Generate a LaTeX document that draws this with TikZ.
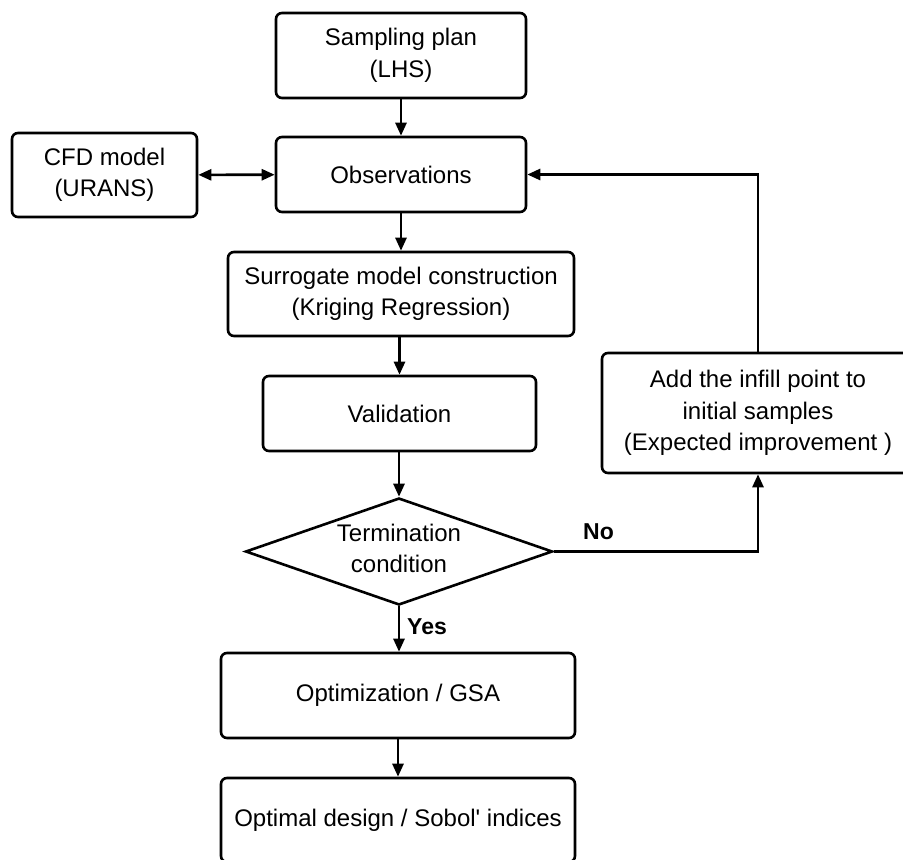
\documentclass[tikz,border=0pt]{standalone}
\usepackage{fontspec}
\setmainfont{Liberation Sans}
\usetikzlibrary{arrows.meta,shapes.geometric}

\tikzset{
  box/.style={draw, line width=2.6pt, rounded corners=6pt, rectangle,
    inner sep=0pt, align=center, fill=white,
    font=\fontsize{24}{31.5}\selectfont},
  decision/.style={draw, line width=2.6pt, diamond, inner sep=0pt,
    minimum width=307pt, minimum height=107pt},
  flow/.style={line width=2.6pt, -{Triangle[length=13pt,width=11pt]}},
  twoway/.style={line width=2.6pt,
    {Triangle[length=13pt,width=11pt]}-{Triangle[length=13pt,width=11pt]}},
  answer/.style={font=\bfseries\fontsize{23}{28}\selectfont, inner sep=0pt}
}

\begin{document}
\begin{tikzpicture}[x=1pt, y=-1pt]
  \useasboundingbox (0,0) rectangle (903,860);
  \clip (0,0) rectangle (903,860);

  % main column
  \node[box, minimum width=250pt, minimum height=85pt] (plan) at (401,55.5)
    {Sampling plan\\(LHS)};
  \node[box, minimum width=250pt, minimum height=75pt] (obs) at (401,174.5)
    {Observations};
  \node[box, minimum width=185pt, minimum height=84pt] (cfd) at (104.5,175)
    {CFD model\\(URANS)};
  \node[box, minimum width=346pt, minimum height=84pt] (surr) at (401,294)
    {Surrogate model construction\\(Kriging Regression)};
  \node[box, minimum width=273pt, minimum height=75pt] (valid) at (399.5,413.5)
    {Validation};
  \node[decision, label={[font=\fontsize{24}{31.5}\selectfont, align=center,
      yshift=3pt]center:Termination\\condition}] (cond) at (399,551.5) {};
  \node[box, minimum width=354pt, minimum height=85pt] (optim) at (398,695.5)
    {Optimization / GSA};
  \node[box, minimum width=354pt, minimum height=84pt] (final) at (398,820)
    {Optimal design / Sobol\textquotesingle{} indices};

  % infill branch
  \node[box, minimum width=312pt, minimum height=120pt] (infill) at (758,413)
    {Add the infill point to\\initial samples\\(Expected improvement )};

  % connectors
  \draw[flow] (plan) -- (obs);
  \draw[twoway] (cfd) -- (obs);
  \draw[flow] (obs.south) -- (obs.south |- surr.north);
  \draw[flow] (surr.south -| valid.north) -- (valid.north);
  \draw[flow] (valid.south -| cond.north) -- (cond.north);
  \draw[flow] (cond.south) -- (cond.south |- optim.north);
  \draw[flow] (optim.south) -- (optim.south |- final.north);
  \draw[flow] (cond.east) -| (infill.south);
  \draw[flow] (infill.north) |- (obs.east);

  % branch labels
  \node[answer, anchor=west] (yes) at (407,627) {Yes};
  \node[answer, anchor=west] (no) at (583,532) {No};
\end{tikzpicture}
\end{document}
